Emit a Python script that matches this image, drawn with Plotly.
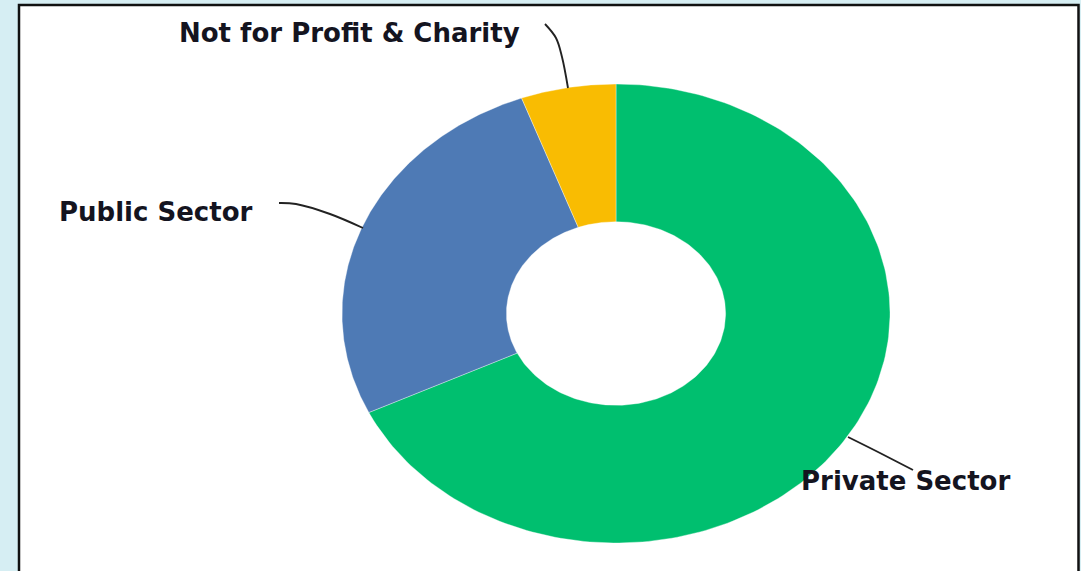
import numpy as np
import plotly.graph_objects as go

# Share of respondents by sector
sectors = ["Private Sector", "Public Sector", "Not for Profit & Charity"]
shares = [67.9, 26.5, 5.6]
colors = ["#00BF6F", "#4E7AB5", "#F9BC02"]

W, H = 1081, 571
CX, CY = 616, 313.5          # donut centre in page pixels
RX, RY = 274, 229.5          # outer radius (x, y) in pixels
HOLE = 0.4

# axis ranges chosen so the unit circle lands on the donut ellipse
x_range = [(0 - CX) / RX, (W - CX) / RX]
y_range = [-(H - CY) / RY, CY / RY]


def px(x, y):
    """page pixel -> data coordinates"""
    return (x - CX) / RX, (CY - y) / RY


fig = go.Figure()

# donut wedges, clockwise from 12 o'clock
total = sum(shares)
start = 0.0
for name, val, col in zip(sectors, shares, colors):
    end = start + val / total * 2 * np.pi
    t = np.linspace(start, end, 200)
    xs = np.concatenate([np.sin(t), HOLE * np.sin(t[::-1])])
    ys = np.concatenate([np.cos(t), HOLE * np.cos(t[::-1])])
    fig.add_trace(go.Scatter(
        x=np.append(xs, xs[0]), y=np.append(ys, ys[0]),
        mode="lines", fill="toself", fillcolor=col,
        line=dict(width=0.6, color="rgba(255,255,255,0.6)"),
        name=name, hoverinfo="name", showlegend=False,
    ))
    start = end

# leader lines from labels to the ring
leaders = [
    [(545, 24), (556, 38), (562, 57), (568, 88)],
    [(279, 203), (296, 204), (330, 214), (363, 228)],
    [(848, 437), (880, 453), (913, 470)],
]
for pts in leaders:
    xy = [px(a, b) for a, b in pts]
    fig.add_trace(go.Scatter(
        x=[p[0] for p in xy], y=[p[1] for p in xy],
        mode="lines", line=dict(color="#222222", width=1.9, shape="spline"),
        hoverinfo="skip", showlegend=False,
    ))

label_pos = {
    "Not for Profit & Charity": (177, 33),
    "Public Sector": (57, 212),
    "Private Sector": (799, 481),
}
for text, (lx, ly) in label_pos.items():
    fig.add_annotation(
        x=lx / W, y=1 - ly / H, xref="paper", yref="paper",
        xanchor="left", yanchor="middle", showarrow=False,
        text=f"<b>{text}</b>",
        font=dict(family="DejaVu Sans, sans-serif", size=26, color="#14141f"),
    )

# white panel with dark frame
fig.add_shape(
    type="rect", xref="paper", yref="paper", layer="below",
    x0=19 / W, x1=1078.5 / W, y0=-0.05, y1=1 - 5 / H,
    fillcolor="white", line=dict(color="#111111", width=2.5),
)

fig.update_layout(
    width=W, height=H,
    margin=dict(l=0, r=0, t=0, b=0),
    paper_bgcolor="#D6EEF3", plot_bgcolor="rgba(0,0,0,0)",
    xaxis=dict(range=x_range, visible=False, fixedrange=True),
    yaxis=dict(range=y_range, visible=False, fixedrange=True),
    showlegend=False,
)

fig.write_html("out.html")
